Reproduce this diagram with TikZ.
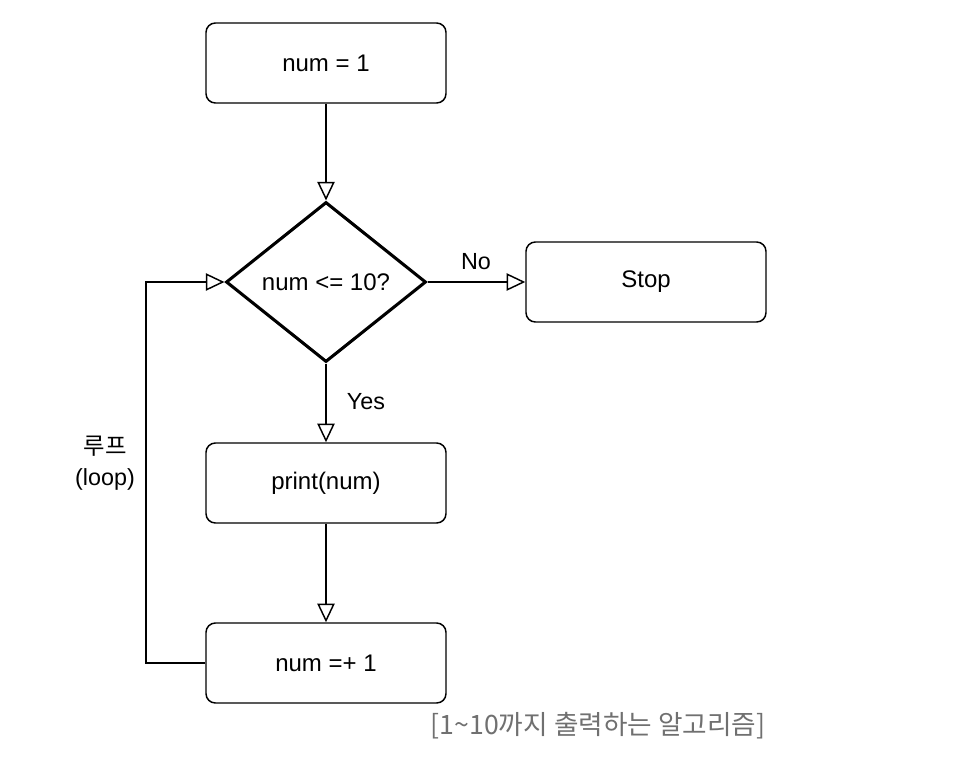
\documentclass[tikz,border=0pt]{standalone}
\usepackage{fontspec}
\setmainfont{Liberation Sans}
\newfontfamily\krfont{Noto Sans CJK KR}
\usetikzlibrary{arrows.meta, positioning, shapes.geometric}
\definecolor{capGray}{HTML}{707070}

\begin{document}
\begin{tikzpicture}[x=0.75pt, y=-0.75pt,
      box/.style={draw, line width=1.1pt, rounded corners=7pt, minimum width=180pt, minimum height=60pt, inner sep=1pt, font=\fontsize{18}{21}\selectfont},
      cond/.style={draw, diamond, line width=2.3pt, minimum width=150pt, minimum height=120pt, inner sep=0pt, font=\fontsize{18}{21}\selectfont},
      flow/.style={line width=1.1pt, -{Triangle[open, length=14pt, width=13pt]}},
      lbl/.style={font=\fontsize{17.5}{23}\selectfont}]
    \useasboundingbox (0,0) rectangle (967,768);
    \node[box]  (init) at (326,63)  {num = 1};
    \node[cond] (test) at (326,282) {num <= 10?};
    \node[box]  (stop) at (646,282) {Stop};
    \node[box]  (prt)  at (326,483) {print(num)};
    \node[box]  (inc)  at (326,663) {num =+ 1};
    \coordinate (lp) at (146,663);
    \draw[flow] (init) -- (test);
    \draw[flow] (test) -- (stop);
    \draw[flow] (test) -- (prt);
    \draw[flow] (prt) -- (inc);
    \draw[flow] (inc.west) -- (lp) |- (test.west);
    \node[lbl] at (476,262) {No};
    \node[lbl] at (366,402) {Yes};
    \node[lbl, align=center] at (105,463) {{\krfont 루프}\\(loop)};
    \node[text=capGray, font=\krfont\fontsize{20}{24}\selectfont] at (598,726) {[1\textasciitilde10까지 출력하는 알고리즘]};
  \end{tikzpicture}
\end{document}
